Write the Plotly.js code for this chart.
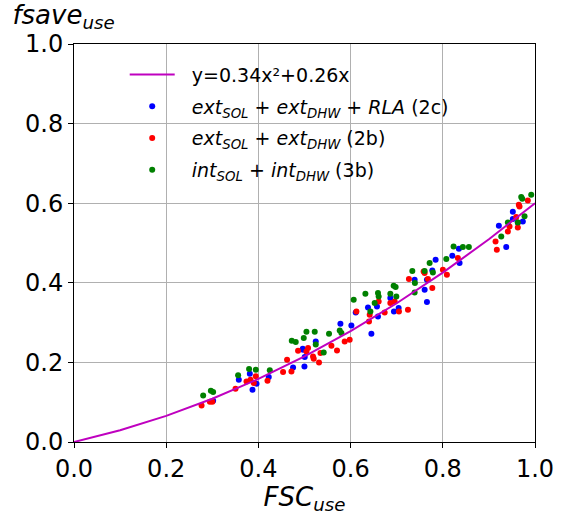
<!DOCTYPE html>
<html>
<head>
<meta charset="utf-8">
<script src="https://cdn.plot.ly/plotly-3.0.1.min.js"></script>
<style>html,body{margin:0;padding:0;background:#fff;}#chart{width:563px;height:515px;}</style>
</head>
<body>
<div id="chart"></div>
<script>
// Fit curve y=0.34x^2+0.26x (sampled points)
var fitX = [0, 0.1, 0.2, 0.3, 0.4, 0.5, 0.6, 0.7, 0.8, 0.9, 1.0];
var fitY = [0, 0.0294, 0.0656, 0.1086, 0.1584, 0.215, 0.2784, 0.3486, 0.4256, 0.5094, 0.6];

// ext_SOL + ext_DHW + RLA (2c) - blue
var blueX = [0.3018,0.3575,0.3814,0.3872,0.3959,0.4225,0.4752,0.4999,0.5005,0.5244,0.4962,0.5779,0.6017,0.6111,0.6377,0.6572,0.6594,0.6451,0.6862,0.694,0.7042,0.7389,0.7606,0.7656,0.4969,0.7844,0.7772,0.8206,0.8349,0.8364,0.9216,0.9376,0.9519,0.9627,0.9736,0.7656,0.9519];
var blueY = [0.1038,0.1565,0.1716,0.1314,0.1465,0.1633,0.1874,0.19,0.2136,0.2528,0.2344,0.2972,0.293,0.3256,0.3382,0.3407,0.3156,0.2721,0.3618,0.3282,0.3367,0.4078,0.3827,0.3518,0.2319,0.458,0.4312,0.4681,0.4857,0.4498,0.5435,0.49,0.5787,0.5518,0.5543,0.4078,0.5603];

// ext_SOL + ext_DHW (2b) - red
var redX = [0.2767,0.2947,0.3001,0.3504,0.3742,0.3829,0.39,0.3944,0.4197,0.4535,0.4622,0.4717,0.486,0.5042,0.52,0.5315,0.5077,0.5185,0.5346,0.5584,0.5705,0.5872,0.598,0.6126,0.6399,0.6414,0.6609,0.6739,0.6862,0.6956,0.7049,0.7244,0.7265,0.7606,0.7677,0.7584,0.7772,0.8002,0.8089,0.8327,0.9144,0.9172,0.9411,0.9447,0.9627,0.9649,0.9844,0.9593,0.9664];
var redY = [0.092,0.1013,0.1013,0.1339,0.1523,0.1565,0.1482,0.1653,0.154,0.1759,0.2068,0.1774,0.2294,0.2276,0.2093,0.2,0.2362,0.2151,0.2236,0.242,0.2302,0.2528,0.257,0.3282,0.303,0.3198,0.3533,0.3256,0.3492,0.3533,0.3282,0.3324,0.4095,0.4246,0.4095,0.4286,0.3869,0.4329,0.4204,0.4623,0.504,0.4832,0.5291,0.5417,0.5392,0.5962,0.607,0.5653,0.592];

// int_SOL + int_DHW (3b) - green
var greenX = [0.2802,0.2969,0.3018,0.356,0.3798,0.3944,0.4247,0.4724,0.481,0.5042,0.5222,0.4984,0.5244,0.5417,0.5532,0.5764,0.5801,0.6067,0.6321,0.6594,0.6609,0.6522,0.6429,0.6862,0.6934,0.6977,0.6992,0.7339,0.7606,0.7389,0.7714,0.8076,0.8234,0.8435,0.8565,0.7785,0.7395,0.9268,0.9411,0.9701,0.9918,0.9773,0.9627,0.9723];
var greenY = [0.1171,0.1289,0.1256,0.1678,0.1834,0.1817,0.1804,0.2545,0.2513,0.2771,0.2771,0.2613,0.2452,0.2251,0.2721,0.2804,0.2739,0.3575,0.3726,0.3744,0.3658,0.3493,0.3282,0.3726,0.3927,0.3895,0.3658,0.4296,0.4296,0.3759,0.4498,0.4598,0.4915,0.49,0.49,0.4261,0.3995,0.5166,0.5518,0.6156,0.6214,0.5673,0.5518,0.6113];

var xTicks = [0, 0.2, 0.4, 0.6, 0.8, 1.0];
var xTickText = ['0.0', '0.2', '0.4', '0.6', '0.8', '1.0'];
var yTicks = [0, 0.2, 0.4, 0.6, 0.8, 1.0];
var yTickText = ['0.0', '0.2', '0.4', '0.6', '0.8', '1.0'];

var font = 'DejaVu Sans, sans-serif';
var mk = 6;
var pad = '\u00A0\u00A0';

var traces = [
  {x: blueX, y: blueY, type: 'scatter', mode: 'markers', name: pad + '<i>ext<sub>SOL</sub></i> + <i>ext<sub>DHW</sub></i> + <i>RLA</i> (2c)',
   marker: {color: '#0000ff', size: mk}, legendrank: 2, legendgroup: 'b'},
  {x: redX, y: redY, type: 'scatter', mode: 'markers', name: pad + '<i>ext<sub>SOL</sub></i> + <i>ext<sub>DHW</sub></i> (2b)',
   marker: {color: '#ff0000', size: mk}, legendrank: 3, legendgroup: 'r'},
  {x: greenX, y: greenY, type: 'scatter', mode: 'markers', name: pad + '<i>int<sub>SOL</sub></i> + <i>int<sub>DHW</sub></i> (3b)',
   marker: {color: '#008000', size: mk}, legendrank: 4, legendgroup: 'g'},
  {x: fitX, y: fitY, type: 'scatter', mode: 'lines', name: pad + 'y=0.34x²+0.26x',
   line: {color: '#bf00bf', width: 2}, legendrank: 1, legendgroup: 'f'}
];

var axisCommon = {
  showline: true, mirror: true, linecolor: '#000', linewidth: 1,
  ticks: 'outside', ticklen: 5, tickwidth: 1, tickcolor: '#000',
  showgrid: true, gridcolor: '#b0b0b0', gridwidth: 1,
  zeroline: false,
  tickfont: {family: font, size: 24, color: '#000'}
};

var layout = {
  width: 563, height: 515,
  margin: {l: 74, r: 27.5, t: 44, b: 73},
  paper_bgcolor: '#fff', plot_bgcolor: '#fff',
  showlegend: true,
  legend: {
    x: 0.11, y: 0.9705, xanchor: 'left', yanchor: 'top',
    bgcolor: 'rgba(0,0,0,0)', borderwidth: 0,
    font: {family: font, size: 19, color: '#000'},
    tracegroupgap: 4, itemwidth: 45, traceorder: 'grouped'
  },
  title: {
    text: '<i>fsave<sub>use</sub></i>',
    font: {family: font, size: 26, color: '#000'},
    xref: 'container', yref: 'container',
    x: 0.022, xanchor: 'left', y: 0.972, yanchor: 'middle'
  },
  xaxis: Object.assign({}, axisCommon, {
    range: [0, 1], tickvals: xTicks, ticktext: xTickText,
    title: {text: '<i>FSC<sub>use</sub></i>', font: {family: font, size: 26, color: '#000'}, standoff: 1}
  }),
  yaxis: Object.assign({}, axisCommon, {
    range: [0, 1], tickvals: yTicks, ticktext: yTickText
  })
};

Plotly.newPlot('chart', traces, layout, {displayModeBar: false, staticPlot: true});
</script>
</body>
</html>
